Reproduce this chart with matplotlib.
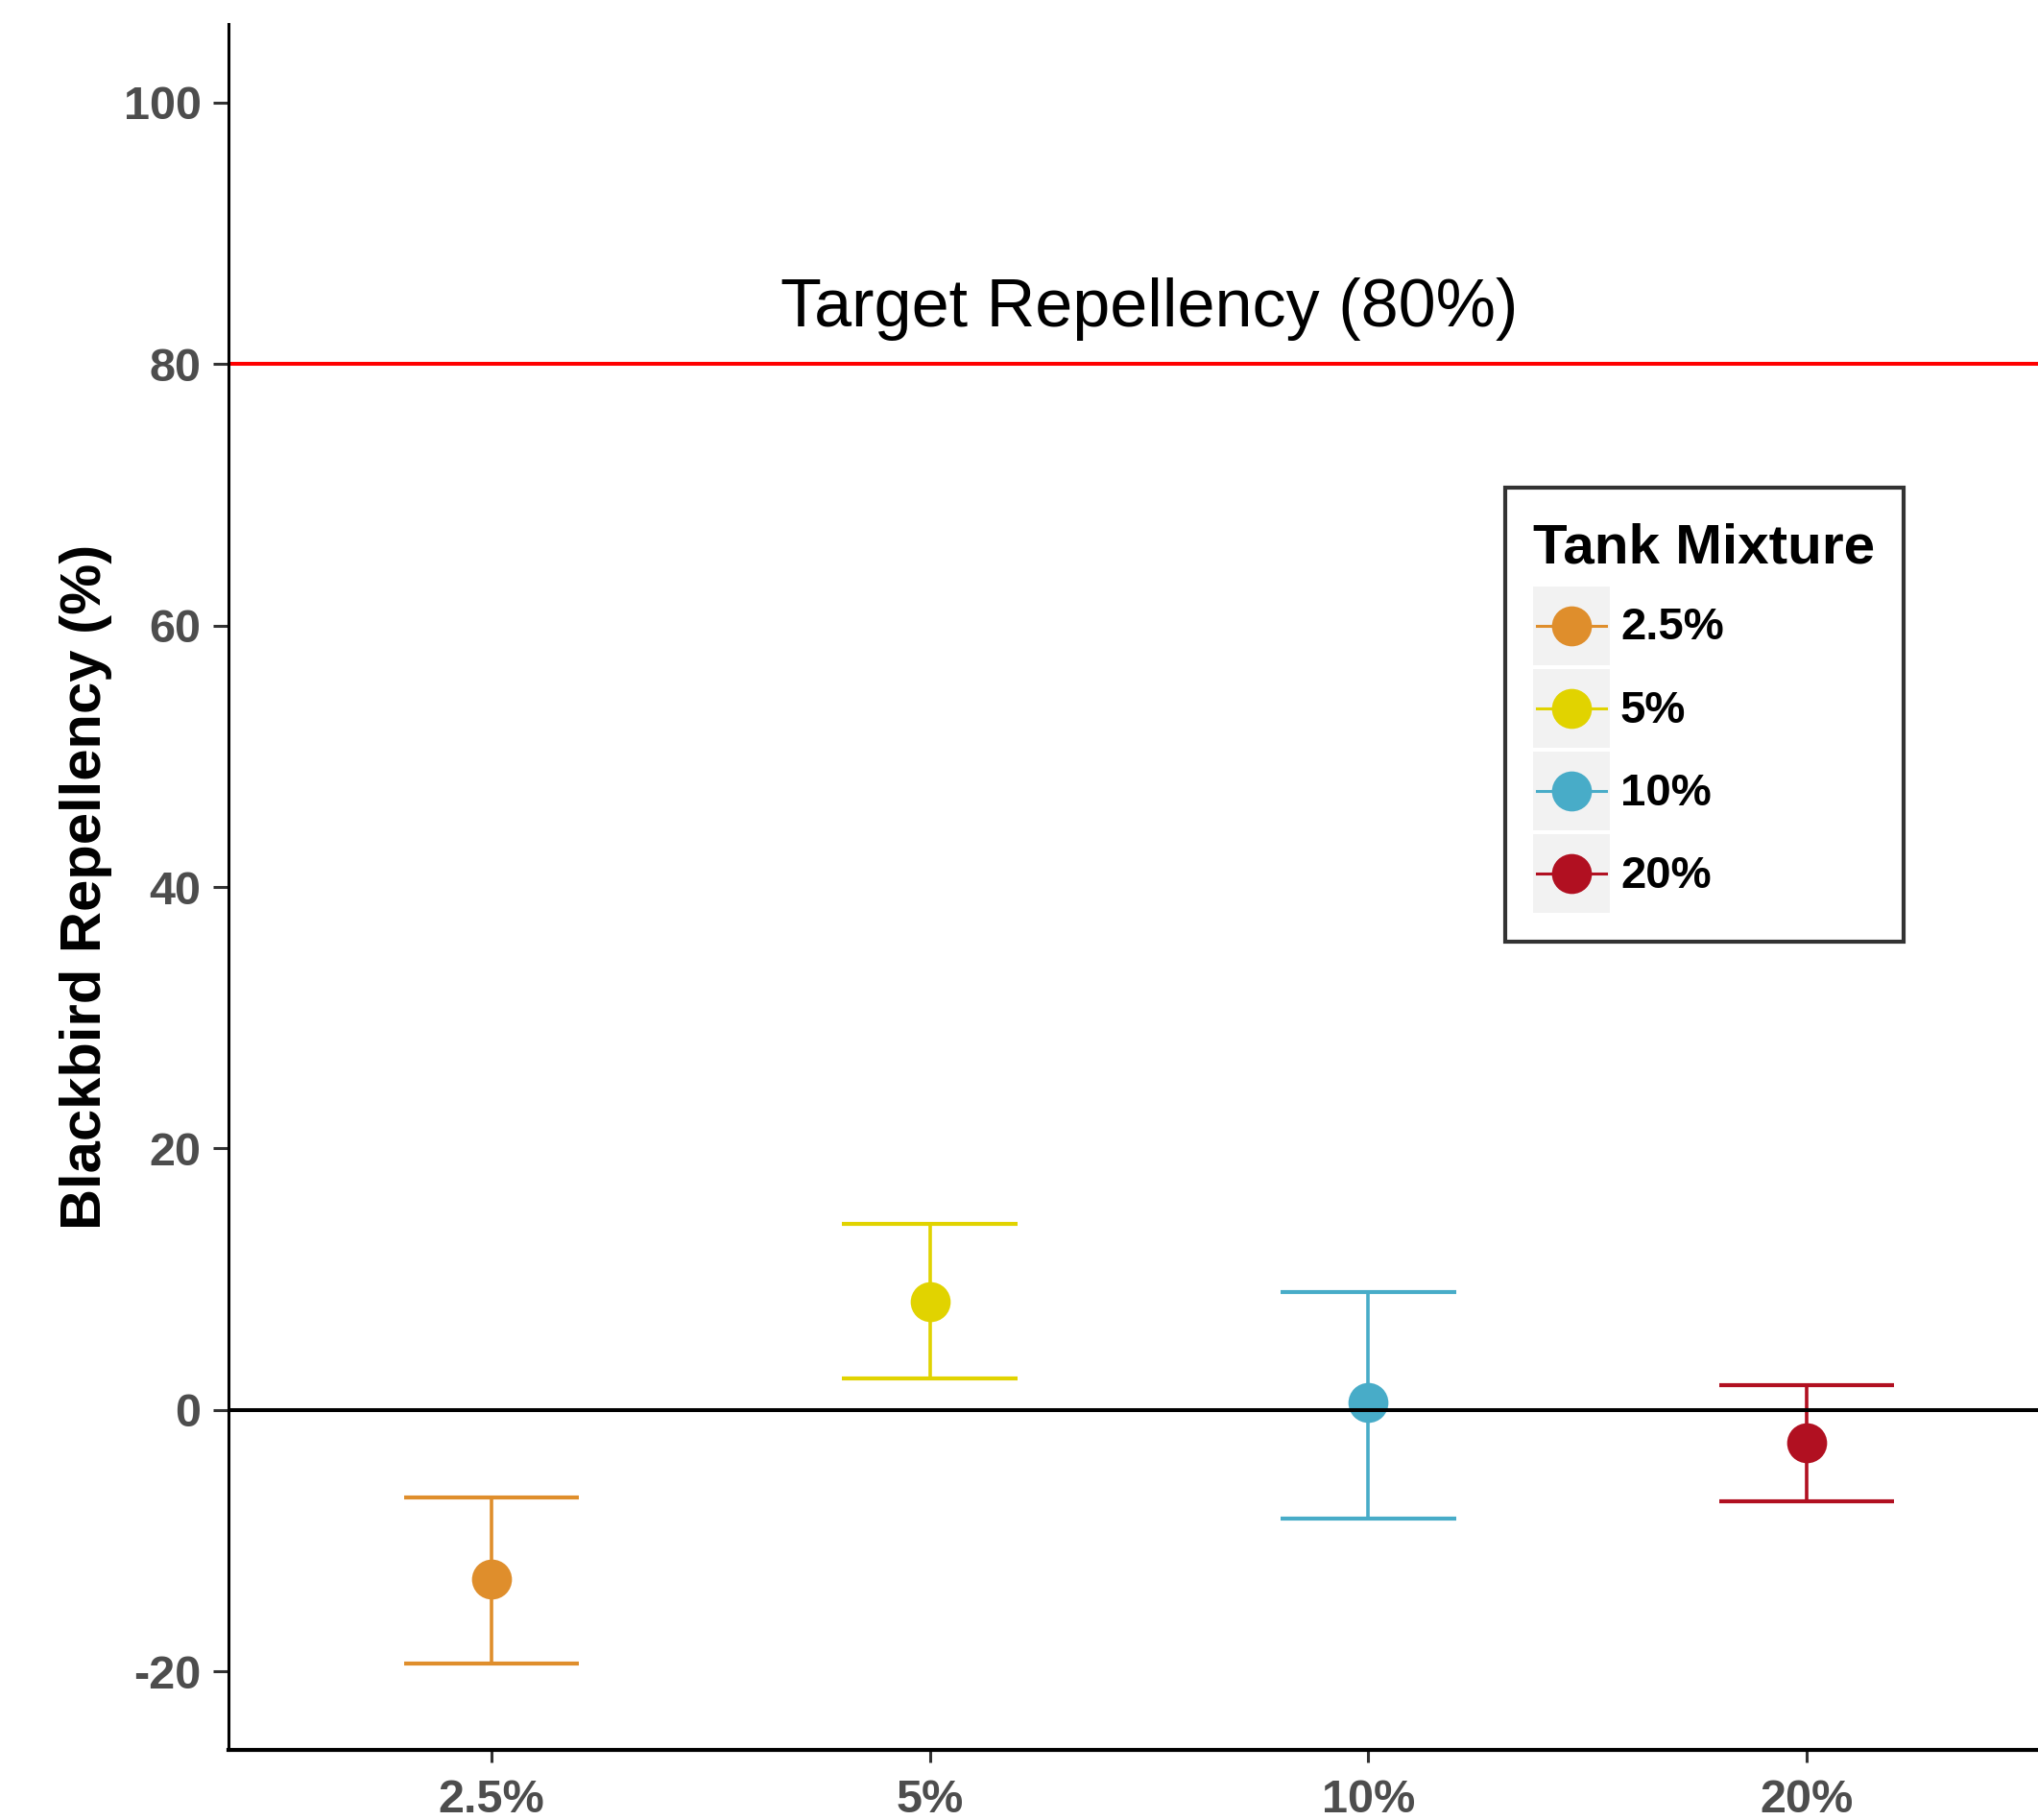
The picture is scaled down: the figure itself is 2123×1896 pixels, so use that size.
import matplotlib
matplotlib.use("Agg")
import matplotlib.pyplot as plt
from matplotlib.lines import Line2D
from matplotlib.patches import Rectangle
from matplotlib.legend_handler import HandlerLine2D
from matplotlib.transforms import ScaledTranslation

plt.rcParams['font.family'] = ['Liberation Sans', 'DejaVu Sans']
plt.rcParams['axes.unicode_minus'] = False

# repellency by tank-mix concentration (mean with lower/upper interval)
mixtures = ['2.5%', '5%', '10%', '20%']
means = [-12.9, 8.3, 0.6, -2.5]
lower = [-19.4, 2.4, -8.3, -7.0]
upper = [-6.7, 14.2, 9.0, 1.9]
colors = ['#DF8E2C', '#E1D300', '#48ACC8', '#B11021']
target = 80
y_ticks = [-20, 0, 20, 40, 60, 80, 100]


class KeyHandler(HandlerLine2D):
    # legend key with a light grey panel behind line + dot
    def create_artists(self, legend, orig_handle, xdescent, ydescent,
                       width, height, fontsize, trans):
        x0 = -xdescent
        y0 = -ydescent
        bg = Rectangle((x0, y0), width, height, facecolor='#F2F2F2',
                       edgecolor='none', transform=trans)
        yc = y0 + height / 2
        seg = Line2D([x0 + 0.05 * width, x0 + 0.95 * width], [yc, yc],
                     color=orig_handle.get_color(), lw=2.2, transform=trans)
        dot = Line2D([x0 + width / 2], [yc], marker='o', linestyle='none',
                     markersize=orig_handle.get_markersize(),
                     markerfacecolor=orig_handle.get_color(),
                     markeredgecolor='none', transform=trans)
        return [bg, seg, dot]


fig = plt.figure(figsize=(21.23, 18.96), dpi=100)
ax = fig.add_axes([0.11211, 0.03850, 0.90344, 0.94831])

xs = list(range(1, len(mixtures) + 1))
handles = []
for x, m, lo, hi, c in zip(xs, means, lower, upper, colors):
    ax.vlines(x, lo, hi, color=c, lw=2.6, zorder=2)
    ax.hlines([lo, hi], x - 0.2, x + 0.2, color=c, lw=3.0, zorder=2)
    h, = ax.plot([x], [m], marker='o', markersize=30, color=c,
                 markeredgecolor='none', linestyle='none', zorder=3)
    handles.append(h)

ax.axhline(target, color='#FF0000', lw=2.9, zorder=1)
ax.axhline(0, color='black', lw=2.9, zorder=4)
ax.text(2.5, target + 2.9, 'Target Repellency (80%)', ha='center',
        va='baseline', fontsize=50.5, color='black')

ax.set_xlim(0.4, 4.6)
ax.set_ylim(-26, 106)
ax.set_xticks(xs)
ax.set_xticklabels(mixtures)
ax.set_yticks(y_ticks)

for side in ['top', 'right']:
    ax.spines[side].set_visible(False)
ax.spines['left'].set_linewidth(2.2)
ax.spines['bottom'].set_linewidth(3.0)

ax.tick_params(axis='y', length=11.5, width=2.2, color='#333333', pad=9,
               labelsize=35, labelcolor='#4D4D4D')
ax.tick_params(axis='x', length=9.4, width=2.2, color='#333333', pad=12,
               labelsize=35, labelcolor='#4D4D4D')
for lab in ax.get_xticklabels() + ax.get_yticklabels():
    lab.set_fontweight('bold')

ax.set_ylabel('Blackbird Repellency (%)', fontsize=43, fontweight='bold')
ax.yaxis.set_label_coords(-0.0631, 0.5)

leg = ax.legend(handles, mixtures, title='Tank Mixture',
                handler_map={Line2D: KeyHandler()},
                loc='upper left', bbox_to_anchor=(0.7386, 0.7321),
                bbox_transform=fig.transFigure, borderaxespad=0,
                fontsize=34, title_fontproperties={'size': 42, 'weight': 'bold'},
                alignment='left', handlelength=1.69, handleheight=2.3,
                labelspacing=0.085, handletextpad=0.23, borderpad=0.62,
                fancybox=False, frameon=True)
leg.get_frame().set_edgecolor('black')
leg.get_frame().set_linewidth(3.0)
# extra gap between the legend title and the keys
leg._legend_box.sep = 14
title = leg.get_title()
title.set_transform(title.get_transform()
                    + ScaledTranslation(0, -5 / 72, fig.dpi_scale_trans))
for t in leg.get_texts():
    t.set_fontweight('bold')

fig.savefig('out.png', dpi=100)
